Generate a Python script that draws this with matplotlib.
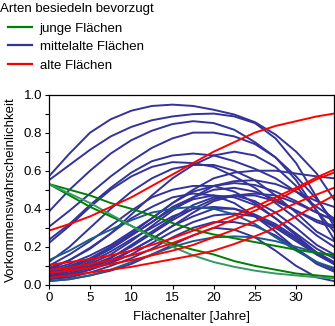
import matplotlib
matplotlib.use("Agg")
import matplotlib.pyplot as plt
from matplotlib.lines import Line2D
from matplotlib.ticker import MultipleLocator, FormatStrFormatter

plt.rcParams['font.family'] = ['Liberation Sans', 'DejaVu Sans']

# Flächenalter (years) at which curves were read
age = [0, 2.5, 5, 7.5, 10, 12.5, 15, 17.5, 20, 22.5, 25, 27.5, 30, 32.5, 34.6]

# junge Flächen (green)
young_dark = [
    [0.53, 0.50, 0.47, 0.43, 0.40, 0.365, 0.325, 0.29, 0.265, 0.245, 0.225, 0.205, 0.185, 0.168, 0.158],
    [0.53, 0.47, 0.41, 0.36, 0.31, 0.26, 0.215, 0.185, 0.16, 0.125, 0.10, 0.08, 0.06, 0.05, 0.042],
]
young_light = [
    [0.53, 0.48, 0.43, 0.37, 0.31, 0.25, 0.20, 0.155, 0.12, 0.095, 0.075, 0.06, 0.05, 0.04, 0.035],
]

# mittelalte Flächen (blue)
mid = [
    [0.57, 0.69, 0.80, 0.87, 0.915, 0.94, 0.947, 0.94, 0.92, 0.895, 0.855, 0.79, 0.70, 0.585, 0.45],
    [0.55, 0.63, 0.71, 0.78, 0.83, 0.865, 0.885, 0.897, 0.90, 0.885, 0.85, 0.77, 0.64, 0.46, 0.31],
    [0.385, 0.50, 0.60, 0.69, 0.76, 0.81, 0.845, 0.86, 0.85, 0.815, 0.75, 0.67, 0.55, 0.39, 0.24],
    [0.305, 0.39, 0.48, 0.57, 0.65, 0.72, 0.77, 0.80, 0.80, 0.78, 0.74, 0.67, 0.57, 0.45, 0.33],
    [0.237, 0.32, 0.42, 0.51, 0.59, 0.65, 0.68, 0.69, 0.68, 0.65, 0.61, 0.56, 0.49, 0.41, 0.35],
    [0.22, 0.31, 0.41, 0.50, 0.57, 0.62, 0.645, 0.64, 0.62, 0.57, 0.51, 0.43, 0.35, 0.26, 0.20],
    [0.09, 0.13, 0.19, 0.27, 0.37, 0.47, 0.56, 0.63, 0.68, 0.70, 0.68, 0.62, 0.52, 0.39, 0.28],
    [0.08, 0.11, 0.155, 0.21, 0.28, 0.35, 0.43, 0.50, 0.56, 0.59, 0.60, 0.60, 0.585, 0.57, 0.56],
    [0.07, 0.10, 0.14, 0.20, 0.27, 0.35, 0.43, 0.49, 0.52, 0.535, 0.525, 0.49, 0.44, 0.38, 0.34],
    [0.06, 0.09, 0.13, 0.19, 0.26, 0.33, 0.41, 0.46, 0.50, 0.51, 0.49, 0.45, 0.39, 0.33, 0.30],
    [0.05, 0.075, 0.11, 0.16, 0.23, 0.31, 0.39, 0.46, 0.52, 0.545, 0.55, 0.53, 0.49, 0.44, 0.41],
    [0.045, 0.07, 0.10, 0.145, 0.20, 0.27, 0.34, 0.40, 0.45, 0.47, 0.47, 0.44, 0.39, 0.34, 0.31],
    [0.04, 0.06, 0.09, 0.13, 0.18, 0.24, 0.31, 0.38, 0.44, 0.47, 0.48, 0.47, 0.43, 0.38, 0.34],
    [0.06, 0.09, 0.135, 0.19, 0.26, 0.33, 0.40, 0.45, 0.47, 0.46, 0.42, 0.35, 0.27, 0.19, 0.14],
    [0.05, 0.08, 0.12, 0.175, 0.24, 0.30, 0.36, 0.40, 0.41, 0.40, 0.36, 0.30, 0.23, 0.16, 0.11],
    [0.035, 0.05, 0.08, 0.115, 0.16, 0.22, 0.28, 0.33, 0.365, 0.375, 0.36, 0.31, 0.24, 0.16, 0.11],
    [0.03, 0.05, 0.08, 0.12, 0.18, 0.24, 0.31, 0.36, 0.40, 0.40, 0.37, 0.32, 0.25, 0.17, 0.12],
    [0.08, 0.13, 0.195, 0.27, 0.35, 0.41, 0.46, 0.48, 0.47, 0.43, 0.36, 0.28, 0.19, 0.11, 0.07],
    [0.10, 0.16, 0.23, 0.31, 0.39, 0.46, 0.50, 0.52, 0.52, 0.49, 0.43, 0.35, 0.26, 0.17, 0.12],
    [0.03, 0.04, 0.065, 0.10, 0.14, 0.19, 0.25, 0.30, 0.33, 0.33, 0.31, 0.26, 0.19, 0.12, 0.08],
    [0.04, 0.06, 0.095, 0.14, 0.21, 0.28, 0.35, 0.42, 0.46, 0.47, 0.44, 0.38, 0.30, 0.21, 0.16],
    [0.12, 0.20, 0.30, 0.40, 0.49, 0.56, 0.61, 0.63, 0.63, 0.60, 0.55, 0.47, 0.38, 0.28, 0.23],
    [0.02, 0.03, 0.05, 0.075, 0.11, 0.16, 0.21, 0.26, 0.30, 0.29, 0.25, 0.18, 0.10, 0.04, 0.02],
]
mid_teal = [
    [0.13, 0.18, 0.24, 0.29, 0.34, 0.38, 0.40, 0.41, 0.40, 0.37, 0.32, 0.25, 0.18, 0.12, 0.09],
    [0.02, 0.03, 0.05, 0.08, 0.12, 0.16, 0.20, 0.23, 0.25, 0.255, 0.25, 0.23, 0.20, 0.17, 0.15],
]

# alte Flächen (red)
old = [
    [0.285, 0.32, 0.36, 0.41, 0.46, 0.52, 0.58, 0.64, 0.70, 0.75, 0.80, 0.835, 0.86, 0.885, 0.90],
    [0.037, 0.05, 0.065, 0.08, 0.095, 0.115, 0.135, 0.155, 0.18, 0.215, 0.255, 0.30, 0.36, 0.42, 0.47],
    [0.063, 0.075, 0.09, 0.11, 0.13, 0.155, 0.18, 0.21, 0.25, 0.29, 0.335, 0.38, 0.43, 0.475, 0.51],
    [0.079, 0.09, 0.11, 0.13, 0.155, 0.185, 0.22, 0.26, 0.30, 0.345, 0.39, 0.44, 0.50, 0.555, 0.59],
    [0.105, 0.12, 0.135, 0.155, 0.18, 0.21, 0.245, 0.285, 0.325, 0.365, 0.41, 0.46, 0.51, 0.565, 0.605],
]

legend_title = "Arten besiedeln bevorzugt"
legend_labels = ["junge Flächen", "mittelalte Flächen", "alte Flächen"]

c_green = "#008000"
c_lgreen = "#339966"
c_blue = "#333399"
c_teal = "#1f5a8a"
c_red = "#ff0000"

FS = 9.5

fig = plt.figure(figsize=(3.35, 3.26), dpi=100)
ax = fig.add_axes([0.146, 0.126, 0.851, 0.584])

lw = 1.4
for v in mid:
    ax.plot(age, v, color=c_blue, lw=lw)
for v in mid_teal:
    ax.plot(age, v, color=c_teal, lw=lw)
for v in young_dark:
    ax.plot(age, v, color=c_green, lw=lw)
for v in young_light:
    ax.plot(age, v, color=c_lgreen, lw=lw)
for v in old:
    ax.plot(age, v, color=c_red, lw=lw)

ax.set_xlim(0, 34.6)
ax.set_ylim(0, 1.0)
ax.xaxis.set_major_locator(MultipleLocator(5))
ax.yaxis.set_major_locator(MultipleLocator(0.2))
ax.yaxis.set_minor_locator(MultipleLocator(0.1))
ax.yaxis.set_major_formatter(FormatStrFormatter('%.1f'))
ax.tick_params(which='both', direction='out', length=3, width=0.8, labelsize=FS, pad=2)
for s in ax.spines.values():
    s.set_linewidth(0.9)

ax.set_xlabel("Flächenalter [Jahre]", fontsize=FS, labelpad=5)
ax.set_ylabel("Vorkommenswahrscheinlichkeit", fontsize=FS, labelpad=5)

fig.text(0.0, 1 - 9 / 326, legend_title, fontsize=FS, ha='left', va='center')
handles = [Line2D([], [], color=c, lw=1.6) for c in (c_green, c_blue, c_red)]
fig.legend(handles, legend_labels, loc='center left',
           bbox_to_anchor=(8 / 335, 1 - 47 / 326), frameon=False, fontsize=FS,
           handlelength=1.85, handletextpad=0.55, labelspacing=0.48,
           borderpad=0, borderaxespad=0)

fig.savefig("out.png", dpi=100)
